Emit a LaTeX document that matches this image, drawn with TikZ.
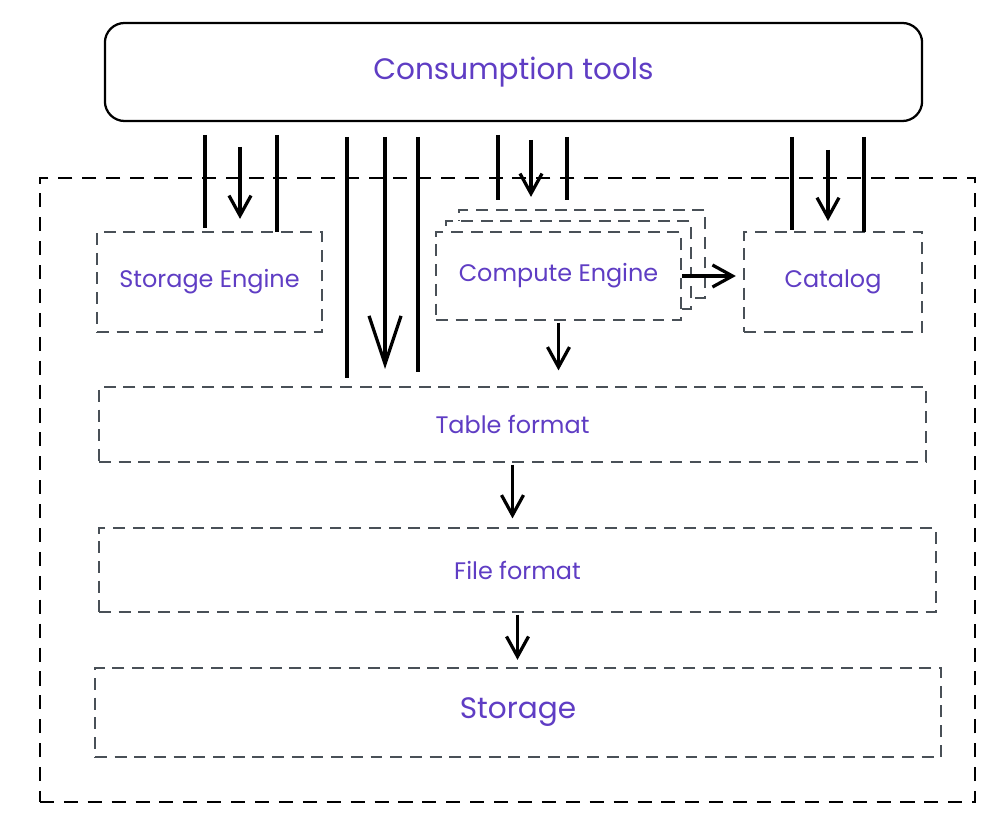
\documentclass[tikz,border=0pt]{standalone}
\usepackage{fontspec}
\setmainfont{Poppins}
\usetikzlibrary{positioning,arrows.meta}

\definecolor{labelpurple}{RGB}{95,61,196}
\definecolor{boxgray}{RGB}{73,80,87}

\begin{document}
\begin{tikzpicture}[
		x=0.025cm, y=-0.025cm,
		every node/.style={
			text=labelpurple,
			inner sep=0pt,
			font=\fontsize{17}{20}\selectfont
		},
		layer/.style={draw=boxgray, line width=1.6pt, dash pattern=on 8.5pt off 5.5pt, fill=white},
		frame/.style={draw=black, line width=1.5pt, dash pattern=on 10pt off 7pt},
		bar/.style={line width=2.5pt},
		flow/.style={line width=2.3pt, -{Straight Barb[length=5mm,width=5.5mm]}}
		]
		\useasboundingbox (0,0) rectangle (1006,826);
		
		% outer frame
		\node (lake) [frame, minimum width=23.375cm, minimum height=15.6cm] at (507.5,490) {};
		
		\node (tools) [draw=black, line width=1.6pt, rounded corners=14pt,
			minimum width=20.425cm, minimum height=2.45cm,
			font=\fontsize{21}{25}\selectfont] at (513.5,72) {Consumption tools};
		
		\node (se) [layer, minimum width=5.625cm, minimum height=2.5cm] at (209.5,282) {Storage Engine};
		\node (ce3) [layer, minimum width=6.15cm, minimum height=2.2cm] at (582,254) {};
		\node (ce2) [layer, minimum width=6.125cm, minimum height=2.2cm] at (568.5,265) {};
		\node (ce) [layer, minimum width=6.125cm, minimum height=2.2cm] at (558.5,276) {Compute Engine};
		\node (cat) [layer, minimum width=4.45cm, minimum height=2.5cm] at (833,282) {Catalog};
		\node (tbl) [layer, minimum width=20.675cm, minimum height=1.875cm] at (512.5,424.5) {Table format};
		\node (ff) [layer, minimum width=20.925cm, minimum height=2.1cm] at (517.5,570) {File format};
		\node (st) [layer, minimum width=21.15cm, minimum height=2.225cm,
			font=\fontsize{21}{25}\selectfont] at (518,712.5) {Storage};
		
		% wide arrows from the consumption tools
		\foreach \x/\a/\b in {205/135/228, 277/135/232, 347/137/378, 418/137/372,
				498/135/200, 567/137/200, 792/137/230, 864/137/232}
			\draw[bar] (\x,\a) -- (\x,\b);
		
		\coordinate (in1) at (240,147);
		\coordinate (in2) at (385,137);
		\coordinate (in3) at (531,140);
		\coordinate (in4) at (828,150);
		
		\draw[flow, shorten >=8.5pt] (in1) -- (in1 |- se.north);
		\draw[flow, shorten >=12pt, -{Straight Barb[length=12mm,width=8mm]}] (in2) -- (in2 |- tbl.north);
		\draw[flow, shorten >=8.5pt] (in3) -- (in3 |- ce3.north);
		\draw[flow, shorten >=7pt] (in4) -- (in4 |- cat.north);
		
		\draw[flow, shorten >=5pt] (ce.east) -- (ce.east -| cat.west);
		\draw[flow, shorten <=1pt, shorten >=11pt] (ce.south) -- (ce.south |- tbl.north);
		\draw[flow, shorten <=1pt, shorten >=6pt] (tbl.south) -- (tbl.south |- ff.north);
		\draw[flow, shorten <=1pt, shorten >=5pt] (ff.south) -- (ff.south |- st.north);
		
	\end{tikzpicture}
\end{document}
